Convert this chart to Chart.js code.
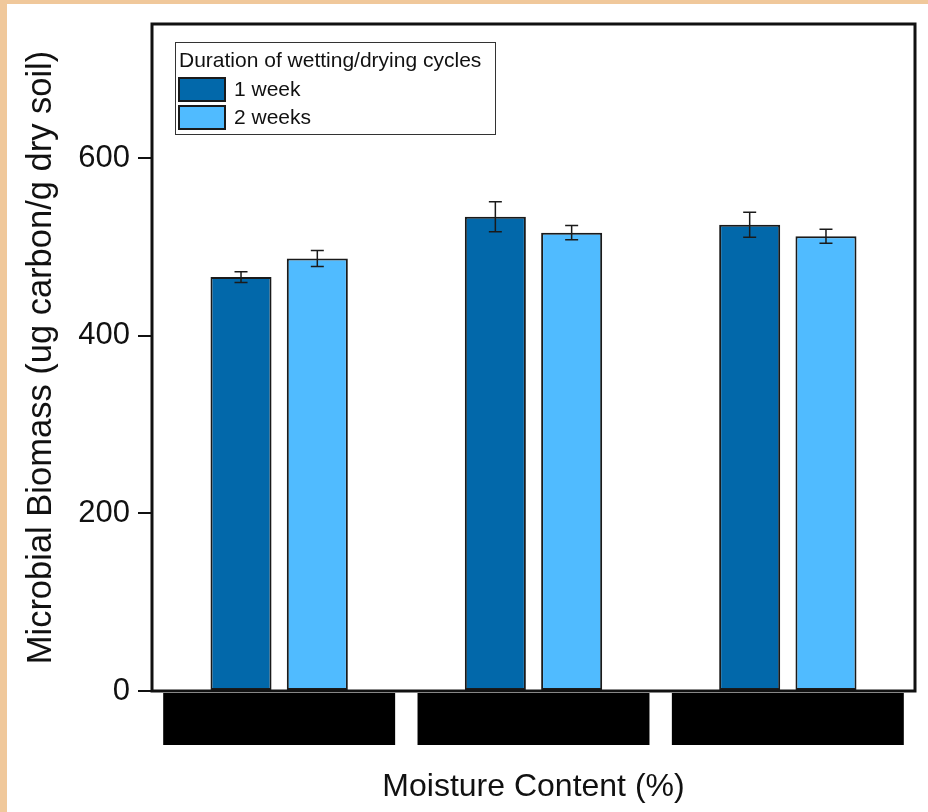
<!DOCTYPE html>
<html>
<head>
<meta charset="utf-8">
<script src="https://cdn.jsdelivr.net/npm/chart.js@4.4.0/dist/chart.umd.min.js"></script>
<style>
    html, body { margin: 0; padding: 0; }
    body { width: 928px; height: 812px; background: #f0c89b; position: relative; overflow: hidden; }
    #wrap { position: absolute; left: 7px; top: 4px; width: 921px; height: 808px; background: #fff; }
</style>
</head>
<body>
<div id="wrap"><canvas id="myChart" width="921" height="808"></canvas></div>
<script>
// categories (labels are blacked out in the reference)
const categories = ['', '', ''];
const seriesNames = ['1 week', '2 weeks'];
const oneWeek = [466, 534, 525];
const twoWeeks = [487, 516, 512];
const oneWeekErr = [6, 17, 14];
const twoWeeksErr = [9, 8, 8];
const yTicks = [0, 200, 400, 600];

const colors = ['#0268aa', '#50bbff'];
const errs = [oneWeekErr, twoWeeksErr];

// frame, error bars, black category boxes, legend
const extras = {
    id: 'extras',
    afterDatasetsDraw(chart) {
        const ctx = chart.ctx;
        const y = chart.scales.y;
        ctx.save();
        ctx.strokeStyle = '#1a1a1a';
        ctx.lineWidth = 1.5;
        chart.data.datasets.forEach((ds, i) => {
            const meta = chart.getDatasetMeta(i);
            meta.data.forEach((bar, j) => {
                const v = ds.data[j];
                const e = errs[i][j];
                const top = y.getPixelForValue(v + e);
                const bot = y.getPixelForValue(v - e);
                ctx.beginPath();
                ctx.moveTo(bar.x, top);
                ctx.lineTo(bar.x, bot);
                ctx.moveTo(bar.x - 6.5, top);
                ctx.lineTo(bar.x + 6.5, top);
                ctx.moveTo(bar.x - 6.5, bot);
                ctx.lineTo(bar.x + 6.5, bot);
                ctx.stroke();
            });
        });
        ctx.restore();
    },
    afterDraw(chart) {
        const ctx = chart.ctx;
        const a = chart.chartArea;
        const x = chart.scales.x;
        ctx.save();
        // plot frame
        ctx.strokeStyle = '#111';
        ctx.lineWidth = 3;
        ctx.strokeRect(a.left, a.top, a.right - a.left, a.bottom - a.top);

        // black boxes over category labels
        const w = (a.right - a.left) / categories.length * 0.912;
        ctx.fillStyle = '#000';
        categories.forEach((c, i) => {
            const cx = x.getPixelForTick(i);
            ctx.fillRect(cx - w / 2, a.bottom + 2, w, 52);
        });

        // legend
        const lx = a.left + 23, ly = a.top + 18;
        ctx.fillStyle = '#fff';
        ctx.fillRect(lx, ly, 320, 92);
        ctx.strokeStyle = '#333';
        ctx.lineWidth = 1;
        ctx.strokeRect(lx + 0.5, ly + 0.5, 320, 92);
        ctx.fillStyle = '#111';
        ctx.font = '21px Arial, "Liberation Sans", sans-serif';
        ctx.textBaseline = 'middle';
        ctx.textAlign = 'left';
        ctx.fillText('Duration of wetting/drying cycles', lx + 4, ly + 19);
        seriesNames.forEach((name, i) => {
            const sy = ly + 35 + i * 28;
            ctx.fillStyle = colors[i];
            ctx.fillRect(lx + 3, sy, 48, 25);
            ctx.strokeStyle = '#1a1a1a';
            ctx.lineWidth = 2;
            ctx.strokeRect(lx + 4, sy + 1, 46, 23);
            ctx.fillStyle = '#111';
            ctx.fillText(name, lx + 59, sy + 13);
        });
        ctx.restore();
    }
};

const ctx = document.getElementById('myChart').getContext('2d');
const myChart = new Chart(ctx, {
    type: 'bar',
    data: {
        labels: categories,
        datasets: [
            {
                label: seriesNames[0],
                data: oneWeek,
                backgroundColor: colors[0],
                borderColor: '#1a1a1a',
                borderWidth: 2,
                borderSkipped: false,
            },
            {
                label: seriesNames[1],
                data: twoWeeks,
                backgroundColor: colors[1],
                borderColor: '#1a1a1a',
                borderWidth: 2,
                borderSkipped: false,
            },
        ],
    },
    options: {
        responsive: false,
        animation: false,
        barPercentage: 0.8,
        categoryPercentage: 0.6,
        layout: { padding: { top: 20, right: 13, left: 0, bottom: 0 } },
        plugins: {
            legend: { display: false },
            tooltip: { enabled: false },
        },
        scales: {
            x: {
                ticks: { display: false },
                grid: { display: false },
                border: { display: false },
                title: {
                    display: true,
                    text: 'Moisture Content (%)',
                    color: '#111',
                    font: { family: 'Arial, "Liberation Sans", sans-serif', size: 32 },
                    padding: { top: 0, bottom: 6 },
                },
                afterFit: (scale) => {
                    scale.height = 121;
                    scale.paddingLeft = 0;
                    scale.paddingRight = 0;
                },
            },
            y: {
                min: 0,
                max: 751,
                afterBuildTicks: (scale) => {
                    scale.ticks = yTicks.map(v => ({ value: v }));
                },
                ticks: {
                    color: '#111',
                    padding: 8,
                    font: { family: 'Arial, "Liberation Sans", sans-serif', size: 31 },
                },
                grid: {
                    drawOnChartArea: false,
                    drawTicks: true,
                    tickLength: 14,
                    color: '#111',
                    lineWidth: 2,
                },
                border: { display: false },
                title: {
                    display: true,
                    text: 'Microbial Biomass (ug carbon/g dry soil)',
                    color: '#111',
                    font: { family: 'Arial, "Liberation Sans", sans-serif', size: 34.5 },
                    padding: { top: 14, bottom: 0 },
                },
                afterFit: (scale) => {
                    scale.width = 145;
                    scale.paddingTop = 0;
                    scale.paddingBottom = 0;
                },
            },
        },
    },
    plugins: [extras],
});
</script>
</body>
</html>
